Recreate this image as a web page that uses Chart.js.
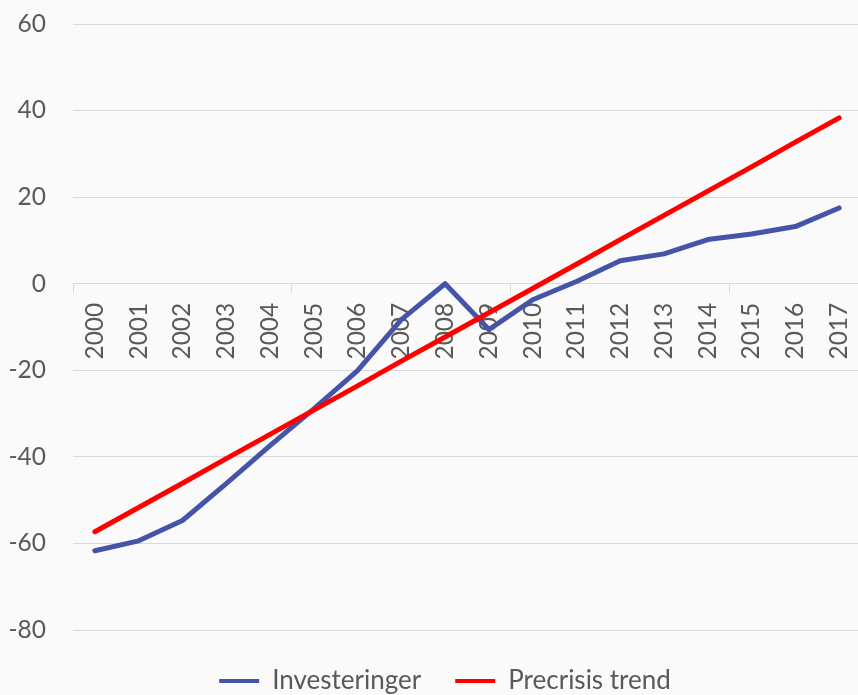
<!DOCTYPE html>
<html><head><meta charset="utf-8">
<script src="https://cdn.jsdelivr.net/npm/chart.js@4"></script>
<style>
html,body{margin:0;padding:0;background:#fafafa;overflow:hidden;width:858px;height:695px}
#wrap{width:861px;height:695px}
canvas{display:block}
</style></head>
<body><div id="wrap"><canvas id="c" width="861" height="695"></canvas></div>
<script>
const categories = ['2000','2001','2002','2003','2004','2005','2006','2007','2008','2009','2010','2011','2012','2013','2014','2015','2016','2017'];
const investeringer = [-61.7,-59.4,-54.7,-46.2,-37.4,-28.9,-20.1,-8.3,0,-10.6,-3.7,0.5,5.3,6.9,10.2,11.5,13.2,17.5];
const precrisisTrend = [-57.3,-51.7,-46.1,-40.4,-34.8,-29.2,-23.6,-17.9,-12.3,-6.7,-1.1,4.5,10.2,15.8,21.4,27.0,32.7,38.3];
const yTicks = [-80,-60,-40,-20,0,20,40,60];
const seriesNames = ['Investeringer','Precrisis trend'];
const seriesColors = ['#4454A8','#FF0000'];

const TICK_FONT = {family:'Lato', size:24.5};
const LEGEND_FONT = {family:'Lato', size:26};
const TEXT = '#595959';
const GRID = '#d9d9d9';

// nudges the legend box so its items sit where the reference has them
const legendNudge = {
  id: 'legendNudge',
  afterLayout(chart) {
    const lg = chart.legend;
    if (!lg) return;
    lg.left += 9.5; lg.right += 9.5;
    lg.top += 4; lg.bottom += 4;
  }
};

new Chart(document.getElementById('c'), {
  type: 'line',
  data: {
    labels: categories,
    datasets: [
      {label: seriesNames[0], data: investeringer, borderColor: seriesColors[0], backgroundColor: seriesColors[0],
       borderWidth: 5, pointRadius: 0, pointHoverRadius: 0, tension: 0, order: 1,
       borderCapStyle: 'round', borderJoinStyle: 'round'},
      {label: seriesNames[1], data: precrisisTrend, borderColor: seriesColors[1], backgroundColor: seriesColors[1],
       borderWidth: 5, pointRadius: 0, pointHoverRadius: 0, tension: 0, order: 0,
       borderCapStyle: 'round', borderJoinStyle: 'round'}
    ]
  },
  plugins: [legendNudge],
  options: {
    responsive: false,
    animation: false,
    events: [],
    layout: {padding: {left: 10, top: 24, right: 0, bottom: 0}},
    scales: {
      x: {
        type: 'category',
        position: {y: 0},
        offset: true,
        afterFit: (s) => { s.paddingLeft = 0; s.paddingRight = 0; s.paddingTop = 0; s.paddingBottom = 0; },
        grid: {
          offset: true, drawOnChartArea: false, drawTicks: true, tickLength: 9,
          color: (c) => (c.index !== undefined && c.index % 5 === 0) ? GRID : 'rgba(0,0,0,0)'
        },
        border: {display: true, color: GRID, width: 1},
        ticks: {autoSkip: false, maxRotation: 90, minRotation: 90, padding: 10, color: TEXT, font: TICK_FONT}
      },
      y: {
        min: -80, max: 60,
        afterBuildTicks: (axis) => { axis.ticks = yTicks.map(v => ({value: v})); },
        afterFit: (s) => { s.width = 63; s.paddingTop = 0; s.paddingBottom = 0; },
        grid: {color: GRID, drawTicks: false, lineWidth: 1},
        border: {display: false},
        ticks: {padding: 27, color: TEXT, font: TICK_FONT}
      }
    },
    plugins: {
      tooltip: {enabled: false},
      legend: {
        position: 'bottom',
        maxHeight: 65,
        labels: {
          boxWidth: 40, boxHeight: 4, padding: 34, color: TEXT, font: LEGEND_FONT,
          useBorderRadius: true, borderRadius: 2,
          generateLabels: (chart) => chart.data.datasets.map((ds, i) => ({
            text: ds.label, fillStyle: ds.borderColor, strokeStyle: ds.borderColor,
            lineWidth: 0, hidden: false, datasetIndex: i, fontColor: TEXT
          }))
        }
      }
    }
  }
});
</script>
</body></html>
